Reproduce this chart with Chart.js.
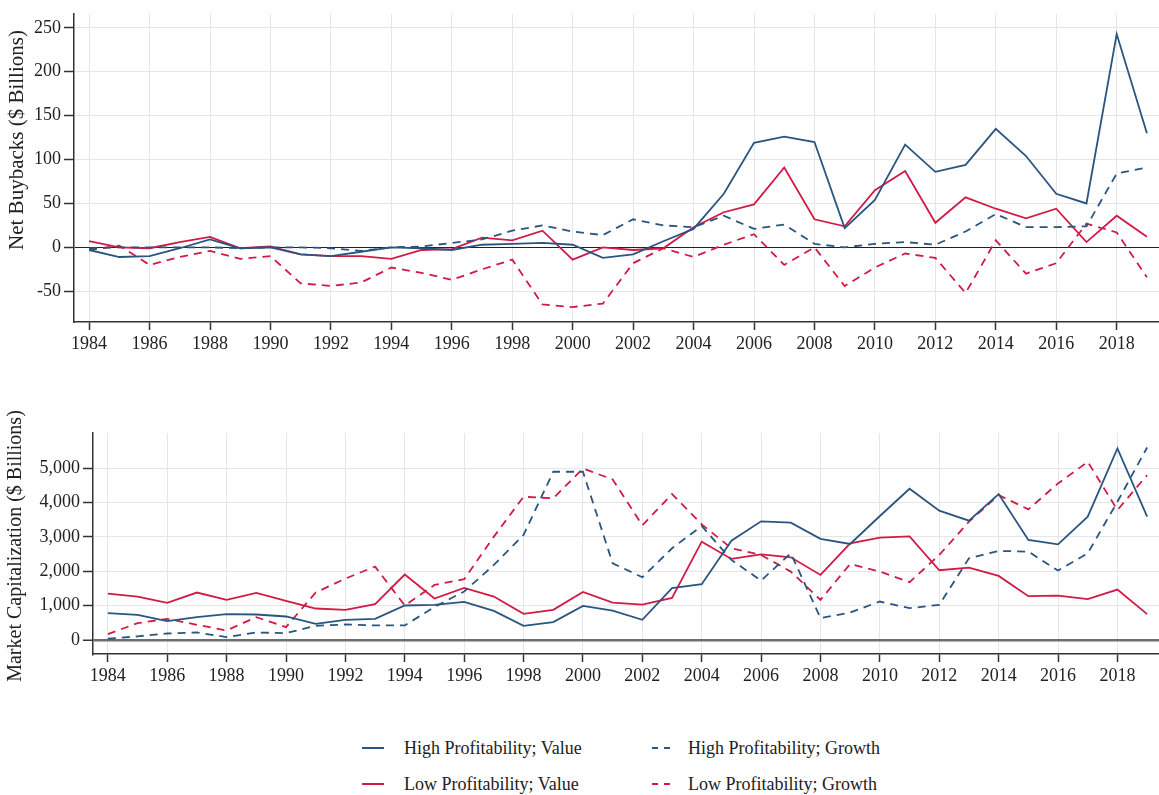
<!DOCTYPE html>
<html>
<head>
<meta charset="utf-8">
<script src="https://cdn.jsdelivr.net/npm/chart.js@4.4.1/dist/chart.umd.min.js"></script>
<style>
  body { margin: 0; background: #fff; }
  #wrap { position: relative; width: 1159px; height: 795px; font-family: "Liberation Serif", "Times New Roman", serif; color: #222; }
  #buyChart { position: absolute; left: 0; top: 0; }
  #capChart { position: absolute; left: 0; top: 400px; }
  #legend { position: absolute; left: 362px; top: 730px; display: grid; grid-template-columns: 290px auto; grid-auto-rows: 36px; font-size: 18px; }
  .item { display: flex; align-items: center; }
  .swatch { height: 2px; }
</style>
</head>
<body>
<div id="wrap">
  <canvas id="buyChart" width="1159" height="360"></canvas>
  <canvas id="capChart" width="1159" height="290"></canvas>
  <div id="legend"></div>
</div>
<script>
const FONT = '"Liberation Serif", "Times New Roman", serif';
const BLUE = '#2a5580';
const RED = '#d11b45';

const YEARS = [1984, 1985, 1986, 1987, 1988, 1989, 1990, 1991, 1992, 1993, 1994, 1995,
  1996, 1997, 1998, 1999, 2000, 2001, 2002, 2003, 2004, 2005, 2006, 2007,
  2008, 2009, 2010, 2011, 2012, 2013, 2014, 2015, 2016, 2017, 2018, 2019];
const X_TICKS = [1984, 1986, 1988, 1990, 1992, 1994, 1996, 1998, 2000, 2002, 2004, 2006, 2008, 2010, 2012, 2014, 2016, 2018];
const BUY_TICKS = [-50, 0, 50, 100, 150, 200, 250];
const CAP_TICKS = [0, 1000, 2000, 3000, 4000, 5000];

// net buybacks, $ billions
const HV_BUY = [-3, -11, -10, -1, 9, -1, 0, -8, -10, -5, 0, -1, -3, 3, 4, 5, 3, -12, -8, 7, 21, 61, 119, 126,
  120, 22, 54, 117, 86, 94, 135, 104, 61, 50, 243, 130];
const HG_BUY = [-1, 0, 0, 0, 0, -1, 0, 0, -1, -4, 0, 1, 5, 9, 19, 25, 18, 14, 32, 25, 23, 36, 21, 26,
  4, 0, 4, 6, 3, 18, 38, 23, 23, 24, 84, 91];
const LV_BUY = [7, 0, -1, 6, 12, -1, 1, -8, -10, -10, -13, -3, -2, 11, 8, 19, -14, 0, -3, -1, 23, 40, 49, 91,
  32, 24, 65, 87, 28, 57, 44, 33, 44, 6, 36, 12];
const LG_BUY = [-3, 2, -20, -11, -4, -13, -10, -41, -44, -40, -23, -29, -37, -25, -14, -65, -68, -64, -18, -1, -11, 3, 15, -20,
  0, -44, -23, -7, -12, -52, 8, -30, -18, 27, 17, -34];

// market capitalization, $ billions
const HV_CAP = [777, 728, 544, 660, 748, 738, 680, 466, 583, 612, 1000, 1020, 1107, 845, 408, 515, 990, 854, 583, 1505, 1622, 2894, 3457, 3418,
  2947, 2796, 3612, 4408, 3767, 3476, 4253, 2913, 2787, 3593, 5583, 3593];
const HG_CAP = [30, 100, 184, 214, 78, 214, 194, 408, 447, 418, 418, 960, 1408, 2185, 3059, 4904, 4904, 2233, 1825, 2670, 3321, 2330, 1728, 2525,
  631, 796, 1117, 922, 1020, 2379, 2593, 2573, 2020, 2525, 4030, 5612];
const LV_CAP = [1350, 1262, 1078, 1379, 1165, 1369, 1136, 913, 874, 1039, 1903, 1204, 1515, 1262, 757, 874, 1398, 1087, 1029, 1223, 2864, 2360, 2495, 2408,
  1893, 2816, 2981, 3020, 2029, 2107, 1864, 1272, 1291, 1185, 1466, 748];
const LG_CAP = [165, 485, 612, 437, 272, 660, 369, 1379, 1787, 2136, 1000, 1602, 1767, 3010, 4175, 4127, 5000, 4680, 3340, 4253, 3369, 2670, 2476, 1990,
  1165, 2214, 1990, 1680, 2476, 3447, 4224, 3806, 4564, 5195, 3787, 4806];

const SERIES = [
  { label: 'High Profitability; Value',  color: BLUE, dash: [],     buy: HV_BUY, cap: HV_CAP },
  { label: 'High Profitability; Growth', color: BLUE, dash: [8, 6], buy: HG_BUY, cap: HG_CAP },
  { label: 'Low Profitability; Value',   color: RED,  dash: [],     buy: LV_BUY, cap: LV_CAP },
  { label: 'Low Profitability; Growth',  color: RED,  dash: [8, 6], buy: LG_BUY, cap: LG_CAP }
];

// rotated y title, placed like the original (not always centred on the axis)
const yTitle = {
  id: 'yTitle',
  afterDraw(chart, args, opts) {
    const c = chart.ctx;
    c.save();
    c.translate(opts.x, opts.y);
    c.rotate(-Math.PI / 2);
    c.font = `${opts.size}px ${FONT}`;
    c.fillStyle = '#222';
    c.textAlign = 'center';
    c.textBaseline = 'middle';
    c.fillText(opts.text, 0, 0);
    c.restore();
  }
};

function makeChart(id, key, cfg) {
  const ctx = document.getElementById(id).getContext('2d');
  return new Chart(ctx, {
    type: 'line',
    data: {
      datasets: SERIES.map(s => ({
        label: s.label,
        data: YEARS.map((yr, i) => ({ x: yr, y: s[key][i] })),
        borderColor: s.color,
        borderDash: s.dash,
        borderWidth: 1.8,
        pointRadius: 0,
        tension: 0,
        fill: false
      }))
    },
    plugins: [yTitle],
    options: {
      responsive: false,
      animation: false,
      devicePixelRatio: 1,
      layout: { padding: { top: cfg.padTop, left: 0, right: 0, bottom: 0 } },
      plugins: {
        legend: { display: false },
        tooltip: { enabled: false },
        yTitle: cfg.title
      },
      scales: {
        x: {
          type: 'linear', min: 1983.5, max: 2019.4,
          afterBuildTicks: s => { s.ticks = X_TICKS.map(v => ({ value: v })); },
          afterFit: s => { s.height = cfg.xHeight; },
          ticks: { color: '#222', font: { family: FONT, size: 18 }, padding: 3, maxRotation: 0, autoSkip: false, callback: v => String(v) },
          grid: { color: '#e6e6e6', lineWidth: 1, tickColor: '#333', tickWidth: 1.5, tickLength: 8 },
          border: { color: '#333', width: 1.5 }
        },
        y: {
          min: cfg.min, max: cfg.max,
          afterBuildTicks: s => { s.ticks = cfg.ticks.map(v => ({ value: v })); },
          afterFit: s => { s.width = cfg.yWidth; },
          ticks: { color: '#222', font: { family: FONT, size: 18 }, padding: 3, callback: v => v.toLocaleString('en-US') },
          grid: {
            color: c => (c.tick && c.tick.value === 0) ? cfg.zeroColor : '#e6e6e6',
            lineWidth: c => (c.tick && c.tick.value === 0) ? cfg.zeroWidth : 1,
            tickColor: '#333', tickWidth: 1.5, tickLength: 10
          },
          border: { color: '#333', width: 1.5 }
        }
      }
    }
  });
}

makeChart('buyChart', 'buy', {
  padTop: 5, xHeight: 38, yWidth: 74, min: -85, max: 266, ticks: BUY_TICKS,
  zeroColor: '#222', zeroWidth: 1,
  title: { text: 'Net Buybacks ($ Billions)', size: 21, x: 17, y: 140 }
});
makeChart('capChart', 'cap', {
  padTop: 33, xHeight: 36, yWidth: 93, min: -415, max: 6035, ticks: CAP_TICKS,
  zeroColor: '#6e6e6e', zeroWidth: 2.5,
  title: { text: 'Market Capitalization ($ Billions)', size: 20, x: 16, y: 146 }
});

// legend, two columns
const legend = document.getElementById('legend');
for (const s of SERIES) {
  const item = document.createElement('div');
  item.className = 'item';
  const sw = document.createElement('div');
  sw.className = 'swatch';
  if (s.dash.length) {
    sw.style.width = '18px';
    sw.style.marginRight = '18px';
    sw.style.background = `linear-gradient(to right, ${s.color} 0 6px, transparent 6px 12px, ${s.color} 12px 18px)`;
  } else {
    sw.style.width = '22px';
    sw.style.marginRight = '20px';
    sw.style.background = s.color;
  }
  const txt = document.createElement('span');
  txt.textContent = s.label;
  item.appendChild(sw);
  item.appendChild(txt);
  legend.appendChild(item);
}
</script>
</body>
</html>
